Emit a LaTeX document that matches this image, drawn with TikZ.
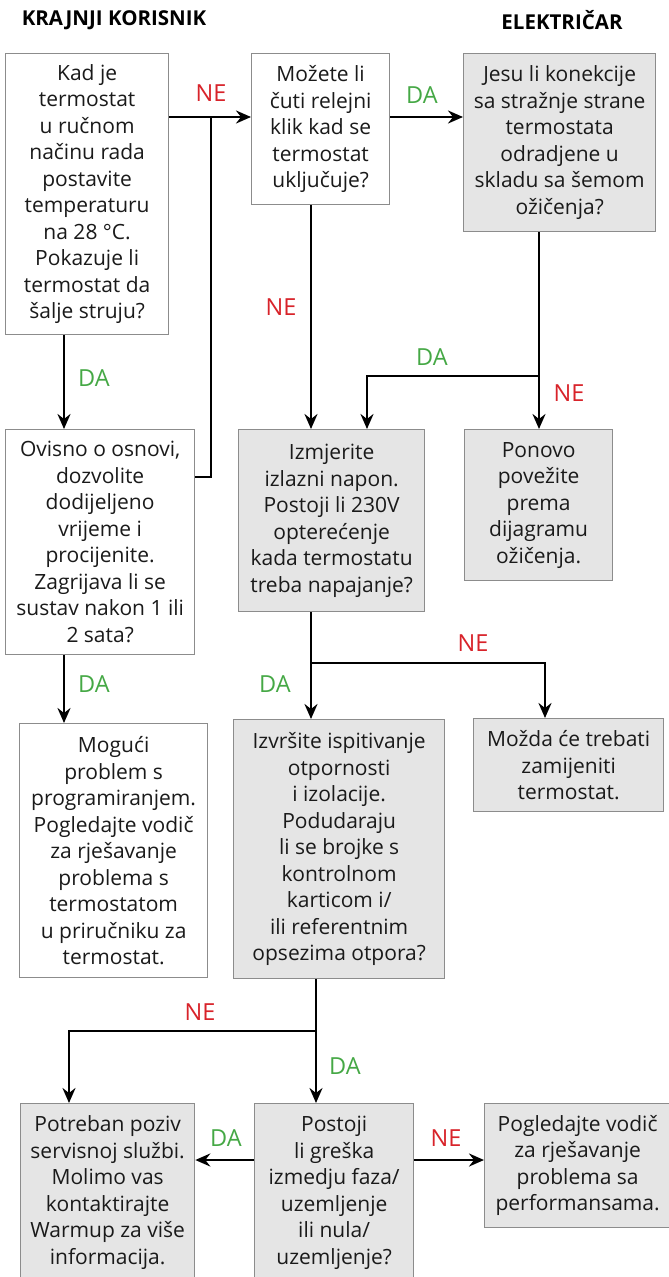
\documentclass[tikz,border=0pt]{standalone}
\usepackage{fontspec}
\setmainfont{Open Sans}
\usepackage{tikz}
\usetikzlibrary{arrows.meta}
\definecolor{boxgray}{HTML}{E5E5E5}
\definecolor{edgegray}{HTML}{8C8C8C}
\definecolor{inkdark}{HTML}{1A1A1A}
\definecolor{nered}{HTML}{D8232A}
\definecolor{dagreen}{HTML}{45A845}

\begin{document}
\begin{tikzpicture}[
    x=1pt, y=-1pt,
    wbox/.style={draw=edgegray, line width=1.3pt, fill=white, anchor=north west,
      inner sep=0pt, align=center, text=inkdark, font=\fontsize{21}{26.5}\selectfont},
    gbox/.style={wbox, fill=boxgray},
    arr/.style={-{Stealth[length=15pt, width=13pt, inset=5pt]}, line width=2.7pt, black},
    wire/.style={line width=2.7pt, black},
    ttl/.style={font=\fontsize{20.5}{24}\selectfont\bfseries, text=black},
    nelbl/.style={font=\fontsize{23.5}{27}\selectfont, text=nered},
    dalbl/.style={font=\fontsize{23.5}{27}\selectfont, text=dagreen},
  ]
    \useasboundingbox (0,0) rectangle (669,1277);
    \clip (0,0) rectangle (669,1277);

    % ===== column titles =====
    \node[ttl] (tkor) at (114,20) {KRAJNJI KORISNIK};
    \node[ttl] (tele) at (562,20) {ELEKTRIČAR};

    % ===== top row =====
    \node[wbox, minimum width=163pt, minimum height=281pt] (rucni) at (5,53)
      {Kad je\\termostat\\u ručnom\\načinu rada\\postavite\\temperaturu\\na 28 °C.\\Pokazuje li\\termostat da\\šalje struju?};
    \node[wbox, minimum width=138pt, minimum height=151pt] (relej) at (251,53)
      {Možete li\\čuti relejni\\klik kad se\\termostat\\uključuje?};
    \node[gbox, minimum width=192pt, minimum height=178pt] (konek) at (463,53)
      {Jesu li konekcije\\sa stražnje strane\\termostata\\odradjene u\\skladu sa šemom\\ožičenja?};

    % ===== second row =====
    \node[wbox, minimum width=189pt, minimum height=225pt] (osnova) at (5,429)
      {Ovisno o osnovi,\\dozvolite\\dodijeljeno\\vrijeme i\\procijenite.\\Zagrijava li se\\sustav nakon 1 ili\\2 sata?};
    \node[gbox, minimum width=186pt, minimum height=182pt] (napon) at (238,429)
      {Izmjerite\\izlazni napon.\\Postoji li 230V\\opterećenje\\kada termostatu\\treba napajanje?};
    \node[gbox, minimum width=148pt, minimum height=151pt] (ponovo) at (464,429)
      {Ponovo\\povežite\\prema\\dijagramu\\ožičenja.};

    % ===== third row =====
    \node[wbox, minimum width=188pt, minimum height=254pt] (program) at (19,723)
      {Mogući\\problem s\\programiranjem.\\Pogledajte vodič\\za rješavanje\\problema s\\termostatom\\u priručniku za\\termostat.};
    \node[gbox, minimum width=211pt, minimum height=259pt] (otpor) at (233,719)
      {Izvršite ispitivanje\\otpornosti\\i izolacije.\\Podudaraju\\li se brojke s\\kontrolnom\\karticom i/\\ili referentnim\\opsezima otpora?};
    \node[gbox, minimum width=190pt, minimum height=93pt] (zamjena) at (473,718)
      {Možda će trebati\\zamijeniti\\termostat.};

    % ===== bottom row =====
    \node[gbox, minimum width=174pt, minimum height=178pt] (servis) at (20,1103)
      {Potreban poziv\\servisnoj službi.\\Molimo vas\\kontaktirajte\\Warmup za više\\informacija.};
    \node[gbox, minimum width=159pt, minimum height=178pt] (greska) at (254,1103)
      {Postoji\\li greška\\izmedju faza/\\uzemljenje\\ili nula/\\uzemljenje?};
    \node[gbox, minimum width=186pt, minimum height=124pt] (perform) at (484,1103)
      {Pogledajte vodič\\za rješavanje\\problema sa\\performansama.};

    % ===== junctions and line positions =====
    \coordinate (jtop) at (211,117);
    \coordinate (josn) at (211,477);
    \coordinate (xleft) at (64,0);
    \coordinate (xmid) at (311,0);
    \coordinate (jkon) at (539,376);
    \coordinate (jkonl) at (367,376);
    \coordinate (jnap) at (311,663);
    \coordinate (jnapr) at (545,663);
    \coordinate (jotp) at (316,1031);
    \coordinate (jotpl) at (69,1031);
    \coordinate (ybot) at (0,1160);

    % ===== connectors =====
    \draw[arr] (rucni.east |- jtop) -- (relej.west |- jtop);
    \draw[wire] (osnova.east |- josn) -- (josn) -- (jtop);
    \draw[arr] (relej.east |- jtop) -- (konek.west |- jtop);
    \draw[arr] (rucni.south -| xleft) -- (osnova.north -| xleft);
    \draw[arr] (osnova.south -| xleft) -- (program.north -| xleft);
    \draw[arr] (relej.south -| xmid) -- (napon.north -| xmid);
    \draw[arr] (konek.south -| jkon) -- (ponovo.north -| jkon);
    \draw[arr] (jkon) -- (jkonl) -- (napon.north -| jkonl);
    \draw[arr] (napon.south -| jnap) -- (otpor.north -| jnap);
    \draw[arr] (jnap) -- (jnapr) -- (zamjena.north -| jnapr);
    \draw[arr] (otpor.south -| jotp) -- (greska.north -| jotp);
    \draw[arr] (jotp) -- (jotpl) -- (servis.north -| jotpl);
    \draw[arr] (greska.west |- ybot) -- (servis.east |- ybot);
    \draw[arr] (greska.east |- ybot) -- (perform.west |- ybot);

    % ===== branch labels =====
    \node[nelbl] (ne1) at (211,93) {NE};
    \node[dalbl] (da1) at (422,95) {DA};
    \node[nelbl] (ne2) at (281,307) {NE};
    \node[dalbl] (da2) at (432,357) {DA};
    \node[nelbl] (ne3) at (569,393) {NE};
    \node[dalbl] (da3) at (94,378) {DA};
    \node[dalbl] (da4) at (94,684) {DA};
    \node[nelbl] (ne4) at (473,643) {NE};
    \node[dalbl] (da5) at (275,684) {DA};
    \node[nelbl] (ne5) at (200,1012) {NE};
    \node[dalbl] (da6) at (345,1066) {DA};
    \node[dalbl] (da7) at (226,1138) {DA};
    \node[nelbl] (ne6) at (446,1138) {NE};

  \end{tikzpicture}
\end{document}
